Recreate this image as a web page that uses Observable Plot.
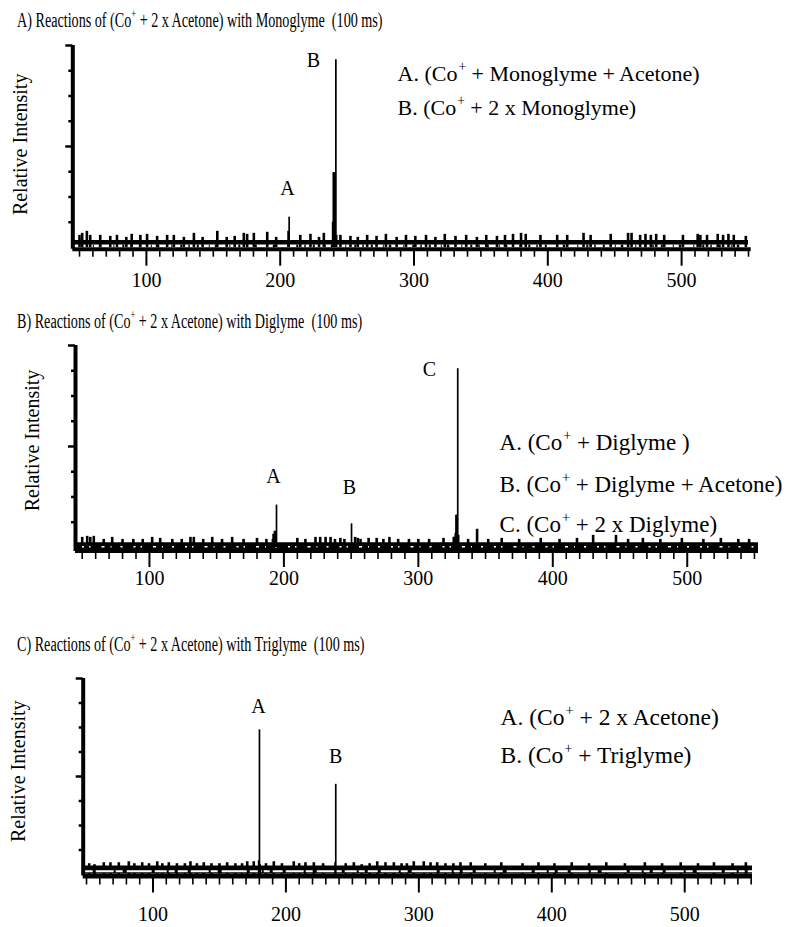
<!DOCTYPE html>
<html><head><meta charset="utf-8">
<script src="https://cdn.jsdelivr.net/npm/d3@7"></script>
<script src="https://cdn.jsdelivr.net/npm/@observablehq/plot@0.6"></script>
<style>
body{margin:0;background:#fff;}
#root{position:relative;width:810px;height:927px;font-family:"Liberation Serif","Times New Roman",serif;color:#000;overflow:hidden;}
.title{position:absolute;left:17px;font-size:20.5px;line-height:22px;white-space:nowrap;transform-origin:0 50%;transform:scaleX(0.69);}
.title sup{font-size:0.6em;line-height:0;vertical-align:0.7em;}
.panel{position:absolute;left:0;}
</style></head><body><div id="root"></div>
<script>
// ---- data ----
const titles = [
  "A)&nbsp;Reactions of (Co<sup>+</sup> + 2 x Acetone) with Monoglyme&nbsp; (100 ms)",
  "B)&nbsp;Reactions of (Co<sup>+</sup> + 2 x Acetone) with Diglyme&nbsp; (100 ms)",
  "C)&nbsp;Reactions of (Co<sup>+</sup> + 2 x Acetone) with Triglyme&nbsp; (100 ms)"
];
const yLabel = "Relative Intensity";
const majorMz = [100, 200, 300, 400, 500];
const minorMz = [50,60,70,80,90,110,120,130,140,150,160,170,180,190,210,220,230,240,250,260,270,280,290,
  310,320,330,340,350,360,370,380,390,410,420,430,440,450,460,470,480,490,510,520,530,540,550];
const majorInt = [0.5, 1];
const minorInt = [0.125, 0.25, 0.375, 0.625, 0.75, 0.875];

// peaks [m/z, relative intensity]
const peaksA = [[205.9,0.08],[206.7,0.15],[239.2,0.125],[239.7,0.37],[240.2,0.37],[240.7,0.37],[241.6,0.93],[242.2,0.06]];
const peaksB = [[191.5,0.04],[192,0.065],[192.5,0.065],[193,0.08],[193.5,0.08],[194.5,0.21],
  [250.3,0.117],[326,0.05],[326.5,0.05],[327,0.05],[327.5,0.07],[328,0.16],[328.5,0.16],[329.3,0.885],[330,0.06]];
const peaksC = [[179.5,0.07],[180.1,0.738],[180.6,0.05],[237,0.06],[237.5,0.46]];

// baseline noise spikes [m/z, relative intensity]
const noiseA = [[50,0.06],[52,0.07],[55.5,0.08],[58,0.06],[65.5,0.06],[73,0.055],[78,0.06],[85,0.05],[89,0.065],[95.5,0.06],
  [100.5,0.065],[108,0.055],[115.5,0.06],[120.5,0.06],[128,0.05],[135.5,0.07],[142,0.05],[153,0.08],[160,0.05],[166,0.055],
  [172.8,0.07],[175.3,0.065],[180.3,0.07],[190.3,0.075],[197,0.05],[215,0.06],[222.6,0.065],[229,0.05],[232.6,0.07],[245,0.06],
  [252.5,0.055],[258,0.05],[265,0.06],[272,0.055],[279,0.065],[287,0.05],[294,0.06],[301,0.055],[309,0.06],[316,0.05],
  [323,0.065],[331,0.055],[339,0.06],[347,0.05],[354,0.06],[362,0.055],[368,0.06],[374,0.065],[380,0.07],[383.5,0.065],
  [394.5,0.06],[407,0.06],[414.5,0.06],[426.7,0.07],[432,0.06],[447,0.065],[460,0.07],[462.6,0.07],[469,0.06],[473,0.065],
  [477,0.06],[481,0.065],[487,0.06],[501,0.06],[512,0.065],[514,0.06],[519,0.06],[527,0.065],[531,0.06],[535,0.065],
  [539,0.06],[548,0.055]];
const noiseB = [[50,0.05],[53.7,0.055],[56,0.05],[58.6,0.055],[66,0.04],[72.3,0.05],[80,0.04],[88,0.04],[95,0.04],[102,0.05],
  [108,0.045],[117,0.04],[124,0.04],[130.5,0.05],[133,0.05],[140,0.04],[146.7,0.05],[154,0.04],[161.5,0.05],[170,0.04],
  [180,0.045],[187,0.04],[210,0.045],[216,0.04],[223.5,0.05],[227,0.05],[231,0.05],[234.7,0.05],[238,0.04],[242,0.045],
  [245,0.04],[253,0.05],[255,0.045],[257,0.04],[263,0.045],[269,0.045],[274,0.04],[278.5,0.05],[285,0.04],[293,0.04],
  [300,0.04],[308,0.04],[318.7,0.045],[337,0.04],[343.7,0.09],[352,0.04],[362,0.045],[375,0.04],[391,0.045],[405,0.04],
  [418,0.045],[430,0.06],[447,0.06],[456,0.04],[467,0.045],[480,0.04],[496,0.045],[512,0.04],[525,0.045],[538,0.04],[546,0.04]];
const noiseC = [[52,0.055],[56,0.05],[63,0.06],[68,0.06],[74.3,0.06],[81.8,0.065],[86,0.055],[91.9,0.06],[97,0.055],[103.2,0.065],
  [107,0.055],[111.9,0.06],[118,0.055],[124,0.055],[128.2,0.065],[133,0.055],[138.2,0.06],[144,0.055],[150,0.055],[155.8,0.06],
  [162,0.055],[167,0.055],[170.9,0.065],[175.8,0.065],[185,0.055],[190.9,0.065],[197,0.055],[205.9,0.065],[210,0.055],[214.7,0.06],
  [221,0.06],[228,0.055],[245,0.055],[251.1,0.06],[257,0.05],[263,0.055],[268.7,0.065],[274.9,0.06],[281.2,0.06],[287,0.055],
  [291,0.055],[296.2,0.065],[303.7,0.065],[308.8,0.06],[313.8,0.06],[320,0.055],[326,0.055],[331.3,0.06],[339,0.06],[350,0.055],
  [362,0.06],[378,0.055],[390,0.06],[402,0.055],[415,0.06],[428,0.055],[441,0.06],[455,0.055],[470,0.06],[483,0.055],
  [497,0.06],[510,0.055],[522,0.06],[536,0.055],[546,0.06]];
const baselineLevel = [0.026, 0.007, 0.0255];

// peak labels [text, m/z, intensity]
const labelsA = [["A",205.5,0.292],["B",224.9,0.926]];
const labelsB = [["A",192.3,0.351],["B",248.8,0.297],["C",308.3,0.881]];
const labelsC = [["A",179.4,0.857],["B",237.5,0.600]];
// legend lines [text, m/z, intensity]
const legendA = [["A. (Co⁺ + Monoglyme + Acetone)",287.7,0.861],["B. (Co⁺ + 2 x Monoglyme)",287.7,0.693]];
const legendB = [["A. (Co⁺ + Diglyme )",360.4,0.52],["B. (Co⁺ + Diglyme + Acetone)",360.4,0.312],["C. (Co⁺ + 2 x Diglyme)",360.4,0.114]];
const legendC = [["A. (Co⁺ + 2 x Acetone)",361.4,0.80],["B. (Co⁺ + Triglyme)",361.4,0.607]];

// ---- layout ----
const panels = [
  {title: titles[0], titleTop: 9, top: 30, yTopPx: 45, axisPx: 248.7, xLeftPx: 72.3, xRightPx: 750.7, xDomain: [45, 552], ymin: -0.0085,
   marginBottom: 45, bandEnd: 550, bandW: 4.6, axisW: 4, majorTick: 17, minorTick: 8, pad: 7, ydx: -52, ydy: -3,
   gap: {level: 0.008, stroke: "black", w: 2.7, dash: "1.5 7 2 10 1 5 2.5 12 1 8 2 6"},
   base: baselineLevel[0], noise: noiseA, peaks: peaksA, labels: labelsA, legend: legendA, legendSize: 22},
  {title: titles[1], titleTop: 310, top: 330, yTopPx: 345, axisPx: 551, xLeftPx: 75, xRightPx: 758, xDomain: [45, 553], ymin: -0.02,
   marginBottom: 45, bandEnd: 553, bandW: 7.8, axisW: 3, majorTick: 16, minorTick: 8, pad: 3, ydx: -43, ydy: -8,
   gap: {level: 0.004, stroke: "white", w: 1.5, dash: "0 7 2 5 1.5 11 3 6 1 9 2 4"},
   base: baselineLevel[1], noise: noiseB, peaks: peaksB, labels: labelsB, legend: legendB, legendSize: 23},
  {title: titles[2], titleTop: 633, top: 660, yTopPx: 678, axisPx: 875.5, xLeftPx: 82.7, xRightPx: 752, xDomain: [47.5, 551], ymin: -0.0077,
   marginBottom: 51.5, bandEnd: 551, bandW: 8, axisW: 5, majorTick: 17, minorTick: 9, pad: 14, ydx: -65, ydy: -6,
   gap: {level: 0.0166, stroke: "white", w: 2, dash: "10 3 18 2 7 4 25 3 12 2 6 3"},
   base: baselineLevel[2], noise: noiseC, peaks: peaksC, labels: labelsC, legend: legendC, legendSize: 23.5}
];

const NS = "http://www.w3.org/2000/svg";
function superscript(svg) {
  svg.querySelectorAll("text").forEach(t => {
    const s = t.textContent;
    if (!s.includes("⁺")) return;
    const parts = s.split("⁺");
    while (t.firstChild) t.removeChild(t.firstChild);
    parts.forEach((p, i) => {
      const a = document.createElementNS(NS, "tspan");
      a.textContent = p;
      if (i > 0) a.setAttribute("dy", "0.42em");
      t.appendChild(a);
      if (i < parts.length - 1) {
        const sp = document.createElementNS(NS, "tspan");
        sp.textContent = "+";
        sp.setAttribute("font-size", "0.62em");
        sp.setAttribute("dy", "-0.68em");
        sp.setAttribute("dx", "1");
        t.appendChild(sp);
      }
    });
  });
}

const root = document.getElementById("root");
for (const cfg of panels) {
  const t = document.createElement("div");
  t.className = "title";
  t.style.top = cfg.titleTop + "px";
  t.innerHTML = cfg.title;
  root.appendChild(t);

  const W = 810;
  const marginTop = cfg.yTopPx - cfg.top;
  const innerH = cfg.axisPx - cfg.yTopPx;
  const height = marginTop + innerH + cfg.marginBottom;
  const [x0, x1] = cfg.xDomain;
  const svg = Plot.plot({
    width: W, height,
    marginTop, marginLeft: cfg.xLeftPx, marginRight: W - cfg.xRightPx, marginBottom: cfg.marginBottom,
    style: {fontFamily: '"Liberation Serif","Times New Roman",serif', fontSize: "20px", background: "transparent", overflow: "visible", color: "black"},
    x: {domain: cfg.xDomain},
    y: {domain: [cfg.ymin, 1]},
    marks: [
      // baseline noise band
      Plot.ruleY([cfg.base], {x1: x0, x2: cfg.bandEnd, strokeWidth: cfg.bandW}),
      Plot.ruleX(cfg.noise, {x: d => d[0], y1: 0, y2: d => d[1], strokeWidth: 2.6}),
      Plot.ruleY([cfg.gap.level], {x1: x0, x2: cfg.bandEnd, stroke: cfg.gap.stroke, strokeWidth: cfg.gap.w, strokeDasharray: cfg.gap.dash}),
      // peaks
      Plot.ruleX(cfg.peaks, {x: d => d[0], y1: 0, y2: d => d[1], strokeWidth: 1.7}),
      // axis lines
      Plot.ruleY([cfg.ymin], {x1: x0, x2: x1, strokeWidth: cfg.axisW}),
      Plot.ruleX([x0], {y1: cfg.ymin, y2: 1, strokeWidth: 4}),
      // ticks
      Plot.axisX(minorMz, {tickSize: cfg.minorTick, tickFormat: () => "", strokeWidth: 1.6, label: null}),
      Plot.axisX(majorMz, {tickSize: cfg.majorTick, tickPadding: cfg.pad, tickFormat: d => String(d), strokeWidth: 2, fontSize: 20, label: null}),
      Plot.axisY(minorInt, {tickSize: 4, tickFormat: () => "", strokeWidth: 2.5, label: null}),
      Plot.axisY(majorInt, {tickSize: 7, tickFormat: () => "", strokeWidth: 2.5, label: null}),
      // texts
      Plot.text([yLabel], {frameAnchor: "left", textAnchor: "middle", rotate: -90, dx: cfg.ydx, dy: cfg.ydy, fontSize: 20, text: d => d}),
      Plot.text(cfg.labels, {x: d => d[1], y: d => d[2], text: d => d[0], fontSize: 20}),
      Plot.text(cfg.legend, {x: d => d[1], y: d => d[2], text: d => d[0], textAnchor: "start", fontSize: cfg.legendSize})
    ]
  });
  superscript(svg);
  svg.classList.add("panel");
  svg.style.position = "absolute";
  svg.style.top = cfg.top + "px";
  svg.style.left = "0px";
  root.appendChild(svg);
}
</script></body></html>
